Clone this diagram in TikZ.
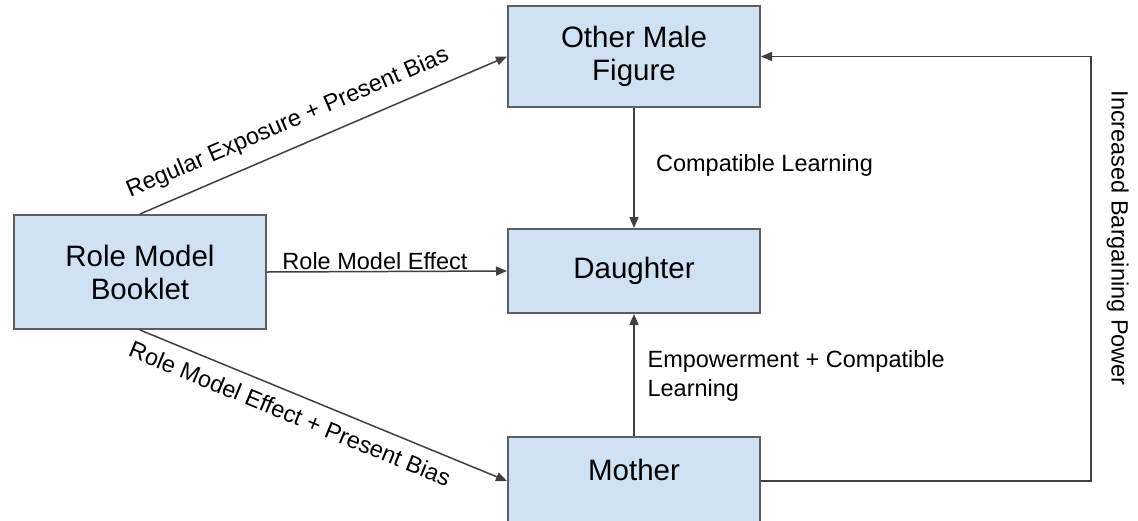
\documentclass[tikz,border=0pt]{standalone}
\usepackage{fontspec}
\setmainfont{Liberation Sans}
\usetikzlibrary{arrows.meta}
\definecolor{boxblue}{HTML}{CFE2F3}
\definecolor{boxline}{HTML}{5F5F5F}
\definecolor{linkgray}{HTML}{404040}
\begin{document}
\begin{tikzpicture}[x=1pt,y=-1pt,
    block/.style={draw=boxline,line width=2pt,fill=boxblue,minimum width=252pt,
      align=center,font=\fontsize{29.5}{33}\selectfont},
    link/.style={draw=linkgray,line width=1.5pt,-{Triangle[length=11pt,width=9pt]}},
    lbl/.style={font=\fontsize{23.5}{29}\selectfont}]
  \useasboundingbox (0,0) rectangle (1138,520);
  \node[block,minimum height=114pt] (booklet) at (140,272) {Role Model\\Booklet};
  \node[block,minimum height=101pt] (male) at (634,56.5) {Other Male\\Figure};
  \node[block,minimum height=84pt] (daughter) at (634,271) {Daughter};
  \node[block,minimum height=88pt,text depth=22pt] (mother) at (634,481) {Mother};
  \coordinate (bend) at (1091,0);
  \draw[link] (booklet.north) -- node[lbl,sloped,above=10pt,pos=.43] {Regular Exposure + Present Bias} (male.west);
  \draw[link] (booklet.east) -- node[lbl,above=-2pt,pos=.45] {Role Model Effect} (daughter.west);
  \draw[link] (booklet.south) -- node[lbl,sloped,below=7.5pt,pos=.43] {Role Model Effect + Present Bias} (mother.west);
  \draw[link] (male.south) -- node[lbl,right=18pt,pos=.475] {Compatible Learning} (daughter.north);
  \draw[link] (mother.north) -- node[lbl,right=9.5pt,align=left,pos=.49] {Empowerment + Compatible\\Learning} (daughter.south);
  \draw[link] (mother.east) -- (mother.east -| bend) -- node[lbl,rotate=-90,anchor=south,inner sep=15pt,pos=.572] {Increased Bargaining Power} (male.east -| bend) -- (male.east);
\end{tikzpicture}
\end{document}
